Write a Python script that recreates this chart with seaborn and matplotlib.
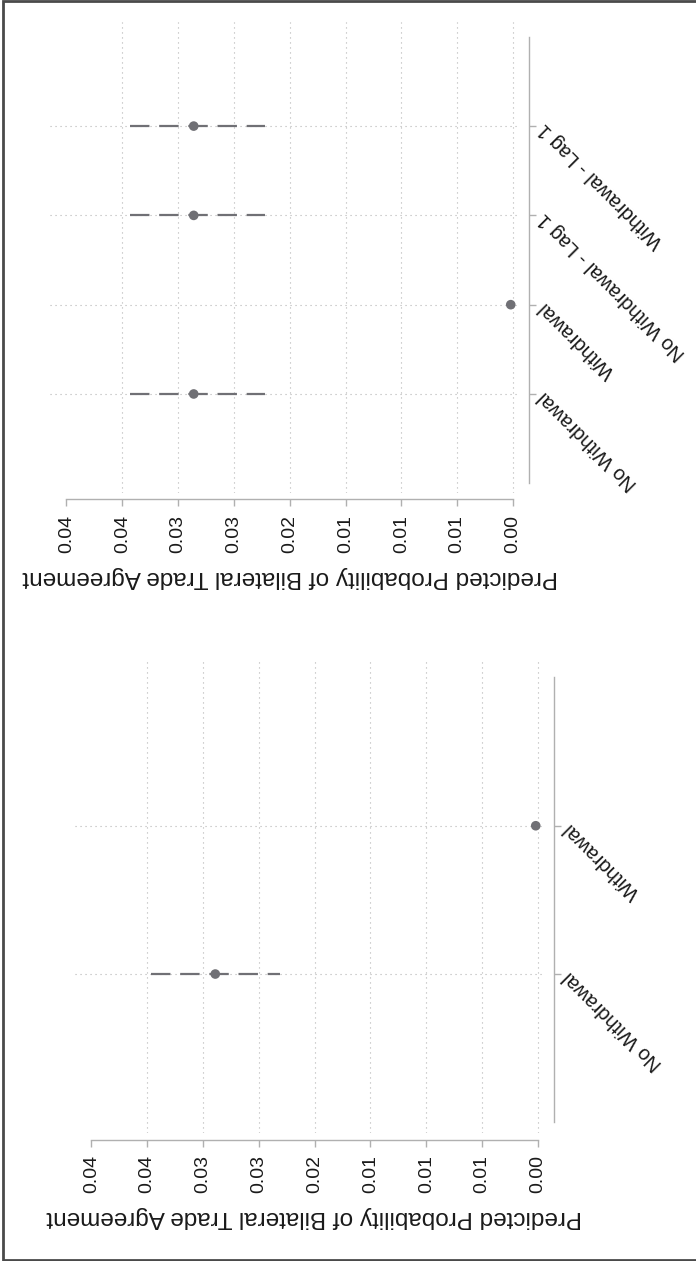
import numpy as np
import pandas as pd
import matplotlib
matplotlib.use("Agg")
import matplotlib.pyplot as plt
import matplotlib.transforms as mtransforms
from matplotlib.lines import Line2D
import seaborn as sns

# Predicted probabilities of a bilateral trade agreement, with 95% bounds
left_categories = ["No Withdrawal", "Withdrawal"]
left_prob = [0.0289, 0.0002]
left_lower = [0.0231, 0.0001]
left_upper = [0.0347, 0.0003]

right_categories = ["No Withdrawal", "Withdrawal",
                    "No Withdrawal - Lag 1", "Withdrawal - Lag 1"]
right_prob = [0.0286, 0.0002, 0.0286, 0.0286]
right_lower = [0.0222, 0.0001, 0.0222, 0.0222]
right_upper = [0.0343, 0.0003, 0.0343, 0.0343]

prob_ticks = [0.000, 0.005, 0.010, 0.015, 0.020, 0.025, 0.030, 0.035, 0.040]
prob_tick_labels = ["0.00", "0.01", "0.01", "0.01", "0.02",
                    "0.03", "0.03", "0.04", "0.04"]
axis_title = "Predicted Probability of Bilateral Trade Agreement"

sns.set_theme(style="white")
plt.rcParams["font.family"] = ["Liberation Sans", "DejaVu Sans"]
plt.rcParams["lines.scale_dashes"] = False

MARK = "#707075"
SPINE = "#b0b0b0"
GRID = "#b4b4b4"
TEXT = "#1a1a1a"

W, H = 696, 1261
fig = plt.figure(figsize=(W / 100, H / 100), dpi=100)


def px_axes(x0, x1, y0, y1):
    """Axes placed by pixel edges measured from the top-left corner."""
    return fig.add_axes([x0 / W, 1 - y1 / H, (x1 - x0) / W, (y1 - y0) / H])


def draw_panel(ax, categories, prob, lower, upper, ylim):
    pos = np.arange(len(categories))
    df = pd.DataFrame({"category": categories, "pos": pos, "prob": prob,
                       "lower": lower, "upper": upper})

    ax.set_xlim(0.0415, -0.00045)
    ax.set_ylim(*ylim)

    # reference lines at every category and every value tick but the last
    ax.set_yticks(pos, labels=categories)
    ax.yaxis.grid(True, color=GRID, linestyle=(0, (0.8, 2.8)), linewidth=0.8)
    for v in prob_ticks[:-1]:
        ax.axvline(v, color=GRID, linestyle=(0, (0.8, 2.8)), linewidth=0.8,
                   zorder=0.5)
    ax.set_axisbelow(True)

    # confidence intervals
    for _, row in df.iterrows():
        ax.plot([row["upper"], row["lower"]], [row["pos"], row["pos"]],
                color=MARK, linewidth=1.6, dashes=(14, 7),
                dash_capstyle="butt", solid_capstyle="butt", zorder=2)

    sns.scatterplot(data=df, x="prob", y="pos", color=MARK, s=48,
                    edgecolor="none", linewidth=0, zorder=3, ax=ax,
                    legend=False)
    ax.set_xlabel("")
    ax.set_ylabel("")

    ax.set_xticks(prob_ticks, labels=prob_tick_labels)

    for side in ("top", "left"):
        ax.spines[side].set_visible(False)
    for side in ("bottom", "right"):
        ax.spines[side].set_visible(True)
        ax.spines[side].set_color(SPINE)
        ax.spines[side].set_linewidth(1.0)
    ax.spines["bottom"].set_position(("outward", 4.5))
    ax.spines["right"].set_position(("outward", 8))
    ax.spines["bottom"].set_bounds(prob_ticks[0], prob_ticks[-1])
    ax.spines["right"].set_bounds(-1, len(categories))

    ax.yaxis.tick_right()
    ax.tick_params(axis="x", direction="out", length=5, width=1.0,
                   color=SPINE, pad=6, labelsize=14, labelcolor=TEXT,
                   labelrotation=90, bottom=True)
    ax.tick_params(axis="y", direction="out", length=5, width=1.0,
                   color=SPINE, pad=4, labelsize=14.5, labelcolor=TEXT,
                   right=True, left=False)
    for lbl in ax.get_yticklabels():
        lbl.set_rotation(135)
        lbl.set_rotation_mode("anchor")
        lbl.set_ha("right")
        lbl.set_va("center")

    trans = mtransforms.blended_transform_factory(ax.transData, ax.transAxes)
    ax.text((prob_ticks[0] + prob_ticks[-1]) / 2, -0.178, axis_title,
            transform=trans, rotation=180, ha="center", va="center",
            fontsize=17.5, color=TEXT)


ax_right = px_axes(49.7, 518, 21.7, 493)
draw_panel(ax_right, right_categories, right_prob, right_lower, right_upper,
           (-1.109, 4.169))

ax_left = px_axes(74.6, 543, 660.7, 1133.3)
draw_panel(ax_left, left_categories, left_prob, left_lower, left_upper,
           (-1.074, 2.113))

# frame on three sides of the figure
fx0 = 2.5 / W
fy_top = 1 - 0.8 / H
fy_bot = 1 - 1259.8 / H
fig.add_artist(Line2D([1.01, fx0, fx0, 1.01], [fy_top, fy_top, fy_bot, fy_bot],
                      transform=fig.transFigure, color="#4a4a4a",
                      linewidth=2.0, solid_joinstyle="miter"))

fig.savefig("out.png", dpi=100)
